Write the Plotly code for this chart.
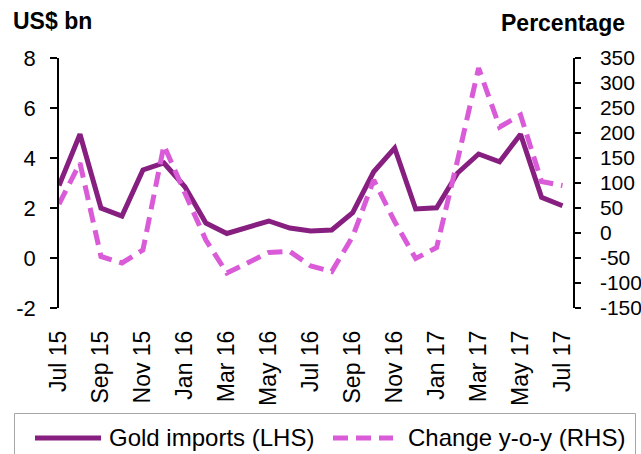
import plotly.graph_objects as go

# Monthly categories, Jul 2015 - Jul 2017
months = ["Jul 15", "Aug 15", "Sep 15", "Oct 15", "Nov 15", "Dec 15",
          "Jan 16", "Feb 16", "Mar 16", "Apr 16", "May 16", "Jun 16",
          "Jul 16", "Aug 16", "Sep 16", "Oct 16", "Nov 16", "Dec 16",
          "Jan 17", "Feb 17", "Mar 17", "Apr 17", "May 17", "Jun 17",
          "Jul 17"]

# Gold imports, US$ bn (left axis)
gold_imports = [2.9, 4.95, 2.0, 1.68, 3.52, 3.8, 2.85, 1.4, 0.98, 1.24,
                1.48, 1.2, 1.08, 1.12, 1.81, 3.45, 4.4, 1.96, 2.01, 3.4,
                4.16, 3.85, 4.95, 2.43, 2.09]

# Year-on-year change, percent (right axis)
yoy_change = [58, 140, -47, -60, -34, 175, 80, -14, -80, -60, -39, -37,
              -66, -77, -7, 106, 23, -51, -29, 146, 330, 212, 236, 103, 95]

left_ticks = [-2, 0, 2, 4, 6, 8]
right_ticks = [-150, -100, -50, 0, 50, 100, 150, 200, 250, 300, 350]

SOLID = "#861F80"
DASHED = "#D95BD7"
FONT = "Liberation Sans, Arial, sans-serif"

idx = list(range(len(months)))
tick_pos = idx[::2]
tick_txt = months[::2]

W, H = 641, 454
ML, MR, MT, MB = 59, 68, 58, 146
PW, PH = W - ML - MR, H - MT - MB


def px(x):
    return (x - ML) / PW


def py(y):
    return (H - MB - y) / PH


fig = go.Figure()
fig.add_trace(go.Scatter(
    x=idx, y=gold_imports, mode="lines", name="Gold imports (LHS)",
    line=dict(color=SOLID, width=5), xaxis="x", yaxis="y",
    showlegend=False, hoverinfo="skip"))
fig.add_trace(go.Scatter(
    x=idx, y=yoy_change, mode="lines", name="Change y-o-y (RHS)",
    line=dict(color=DASHED, width=5, dash="15px,8px"), xaxis="x", yaxis="y2",
    showlegend=False, hoverinfo="skip"))

xr = [0, 24.5]
fig.update_layout(
    width=W, height=H,
    margin=dict(l=ML, r=MR, t=MT, b=MB, autoexpand=False),
    paper_bgcolor="white", plot_bgcolor="white",
    font=dict(family=FONT, size=23, color="black"),
    showlegend=False,
    xaxis=dict(
        range=xr, tickvals=tick_pos, ticktext=tick_txt, tickangle=-90,
        showline=False, ticks="", showgrid=False, zeroline=False,
        ticklabelstandoff=17, tickfont=dict(size=23),
    ),
    xaxis2=dict(
        range=xr, overlaying="x", anchor="free", position=py(258),
        tickvals=tick_pos, showticklabels=False, ticks="outside",
        ticklen=7, tickwidth=1.5, tickcolor="black",
        showline=True, linecolor="black", linewidth=1.5,
        showgrid=False, zeroline=False,
    ),
    yaxis=dict(
        range=[-2, 8], tickvals=left_ticks,
        ticktext=[str(v) for v in left_ticks],
        ticks="outside", ticklen=7,
        tickwidth=1.5, tickcolor="black", showline=True, linecolor="black",
        linewidth=1.5, showgrid=False, zeroline=False,
        ticklabelstandoff=10, tickfont=dict(size=22),
    ),
    yaxis2=dict(
        range=[-150, 350], tickvals=right_ticks,
        ticktext=[str(v) for v in right_ticks],
        overlaying="y", side="right",
        anchor="x", ticks="outside", ticklen=6, tickwidth=1.5,
        tickcolor="black", showline=True, linecolor="black", linewidth=1.5,
        showgrid=False, zeroline=False, ticklabelstandoff=15,
        tickfont=dict(size=21),
    ),
)

# axis titles
fig.add_annotation(text="<b>US$ bn</b>", xref="paper", yref="paper",
                   x=px(11), y=py(21), xanchor="left", yanchor="middle",
                   showarrow=False, font=dict(size=23))
fig.add_annotation(text="<b>Percentage</b>", xref="paper", yref="paper",
                   x=px(627), y=py(23), xanchor="right", yanchor="middle",
                   showarrow=False, font=dict(size=23))

# legend box and entries
fig.add_shape(type="rect", xref="paper", yref="paper",
              x0=px(14.5), x1=px(635.5), y0=py(413.5), y1=py(470),
              line=dict(color="#A6A6A6", width=1), fillcolor="white",
              layer="below")
fig.add_shape(type="line", xref="paper", yref="paper",
              x0=px(35), x1=px(101), y0=py(438), y1=py(438),
              line=dict(color=SOLID, width=5))
fig.add_annotation(text="Gold imports (LHS)", xref="paper", yref="paper",
                   x=px(107), y=py(437), xanchor="left", yanchor="middle",
                   showarrow=False, font=dict(size=24))
fig.add_shape(type="line", xref="paper", yref="paper",
              x0=px(333), x1=px(393), y0=py(438), y1=py(438),
              line=dict(color=DASHED, width=5, dash="15px,8px"))
fig.add_annotation(text="Change y-o-y (RHS)", xref="paper", yref="paper",
                   x=px(406), y=py(437), xanchor="left", yanchor="middle",
                   showarrow=False, font=dict(size=24))

fig.write_html("out.html")
